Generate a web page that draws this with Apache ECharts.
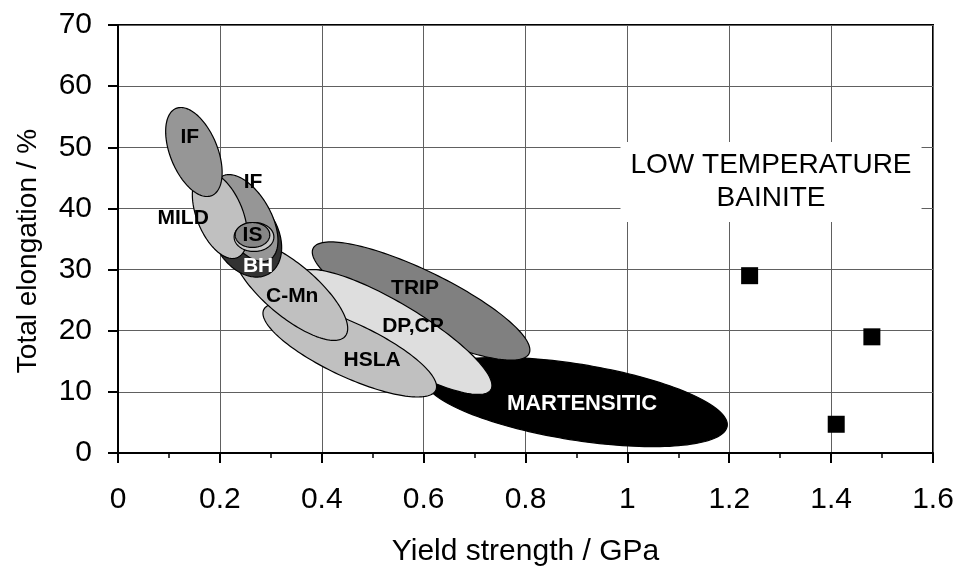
<!DOCTYPE html>
<html>
<head>
<meta charset="utf-8">
<script src="https://cdn.jsdelivr.net/npm/echarts@6/dist/echarts.min.js"></script>
<style>
  html, body { margin: 0; padding: 0; background: #fff; }
  #chart { width: 958px; height: 567px; }
</style>
</head>
<body>
<div id="chart"></div>
<script>
// steel families, back to front (yield strength GPa, total elongation %)
const regionNames = ['MARTENSITIC', 'TRIP', 'DP,CP', 'HSLA', 'C-Mn', 'BH', 'IF', 'MILD', '', 'IS', 'IF'];
const regionCentre = [
  [0.899, 8.34], [0.595, 24.86], [0.544, 19.79], [0.455, 16.85], [0.338, 26.66],
  [0.251, 35.66], [0.251, 38.44], [0.200, 38.93], [0.267, 35.33], [0.264, 35.66], [0.149, 49.23]
];
// end of the long axis and end of the short axis of each region
const regionMajorEnd = [
  [1.196, 4.38], [0.807, 16.26], [0.732, 10.36], [0.624, 10.28], [0.446, 19.09],
  [0.296, 29.29], [0.298, 31.64], [0.234, 31.95], [0.306, 35.33], [0.298, 35.66], [0.184, 42.10]
];
const regionMinorEnd = [
  [0.887, 2.20], [0.569, 20.45], [0.516, 15.86], [0.433, 12.85], [0.305, 23.40],
  [0.197, 33.04], [0.209, 36.40], [0.158, 37.52], [0.267, 32.96], [0.264, 33.62], [0.106, 47.76]
];
const regionLabelAt = [
  [0.911, 8.01], [0.583, 26.99], [0.579, 20.77], [0.499, 15.21], [0.342, 25.68],
  [0.275, 30.59], [0.265, 44.32], [0.128, 38.44], [0.267, 35.33], [0.264, 35.66], [0.141, 51.68]
];

// low temperature bainite measurements
const bainiteYield = [1.24, 1.48, 1.41];
const bainiteElong = [29, 19, 4.7];

const xTicks = [0, 0.2, 0.4, 0.6, 0.8, 1, 1.2, 1.4, 1.6];
const yTicks = [0, 10, 20, 30, 40, 50, 60, 70];

const fills = ['#000000', '#808080', '#dedede', '#c0c0c0', '#c0c0c0', '#333333', '#969696', '#c0c0c0', '#c8c8c8', '#868686', '#969696'];
const labelColors = ['#fff', '#000', '#000', '#000', '#000', '#fff', '#000', '#000', '#000', '#000', '#000'];

const font = 'Liberation Sans, Arial, sans-serif';
const chart = echarts.init(document.getElementById('chart'));

const renderRegion = (params, api) => {
  const i = api.value(2);
  const c = regionCentre[i], m = regionMajorEnd[i], n = regionMinorEnd[i];
  const pts = [];
  for (let k = 0; k < 160; k++) {
    const t = k / 160 * Math.PI * 2;
    const x = c[0] + (m[0] - c[0]) * Math.cos(t) + (n[0] - c[0]) * Math.sin(t);
    const y = c[1] + (m[1] - c[1]) * Math.cos(t) + (n[1] - c[1]) * Math.sin(t);
    pts.push(api.coord([x, y]));
  }
  return {
    type: 'polygon',
    shape: { points: pts },
    style: { fill: fills[i], stroke: '#000', lineWidth: 1.2 }
  };
};

const option = {
  animation: false,
  backgroundColor: '#fff',
  grid: {
    left: 118, right: 25, top: 25, bottom: 114,
    outerBoundsMode: 'none', containLabel: false,
    show: true, borderColor: '#000', borderWidth: 2, backgroundColor: 'transparent'
  },
  xAxis: {
    type: 'value',
    min: xTicks[0],
    max: xTicks[xTicks.length - 1],
    interval: 0.2,
    name: 'Yield strength / GPa',
    nameLocation: 'middle',
    nameGap: 84,
    nameTextStyle: { fontFamily: font, fontSize: 30, color: '#000' },
    axisLine: { show: true, onZero: false, lineStyle: { color: '#000', width: 2 } },
    axisTick: { show: true, length: 10, lineStyle: { color: '#000', width: 2 } },
    minorTick: { show: true, splitNumber: 2, length: 5, lineStyle: { color: '#000', width: 1.5 } },
    axisLabel: { fontFamily: font, fontSize: 30, color: '#000', margin: 32 },
    splitLine: { show: true, lineStyle: { color: '#606060', width: 1 } }
  },
  yAxis: {
    type: 'value',
    min: yTicks[0],
    max: yTicks[yTicks.length - 1],
    interval: 10,
    name: 'Total elongation / %',
    nameLocation: 'middle',
    nameGap: 76,
    nameTextStyle: { fontFamily: font, fontSize: 28, color: '#000', padding: [0, 24, 0, 0] },
    axisLine: { show: true, onZero: false, lineStyle: { color: '#000', width: 2 } },
    axisTick: { show: true, length: 10, lineStyle: { color: '#000', width: 2 } },
    axisLabel: { fontFamily: font, fontSize: 30, color: '#000', margin: 26 },
    splitLine: { show: true, lineStyle: { color: '#606060', width: 1 } }
  },
  series: [
    {
      type: 'custom',
      renderItem: renderRegion,
      data: regionCentre.map((c, i) => [c[0], c[1], i]),
      encode: { x: 0, y: 1 },
      silent: true,
      z: 2
    },
    {
      type: 'scatter',
      symbolSize: 0,
      silent: true,
      z: 3,
      itemStyle: { opacity: 1 },
      data: regionLabelAt.map((p, i) => ({
        value: p,
        label: {
          show: regionNames[i] !== '',
          position: 'inside',
          formatter: regionNames[i],
          fontFamily: font,
          fontSize: regionNames[i] === 'MARTENSITIC' ? 22 : 21,
          fontWeight: 'bold',
          color: labelColors[i]
        }
      }))
    },
    {
      type: 'scatter',
      symbol: 'rect',
      symbolSize: 17,
      itemStyle: { color: '#000', opacity: 1 },
      z: 4,
      data: bainiteYield.map((x, i) => [x, bainiteElong[i]])
    },
    {
      type: 'scatter',
      symbolSize: 0,
      silent: true,
      z: 4,
      itemStyle: { opacity: 1 },
      data: [[1.282, 44.32]],
      label: {
        show: true,
        position: 'inside',
        formatter: 'LOW TEMPERATURE\nBAINITE',
        fontFamily: font,
        fontSize: 28,
        lineHeight: 33,
        color: '#000',
        backgroundColor: '#fff',
        padding: [7, 10]
      }
    }
  ]
};

chart.setOption(option);
</script>
</body>
</html>
